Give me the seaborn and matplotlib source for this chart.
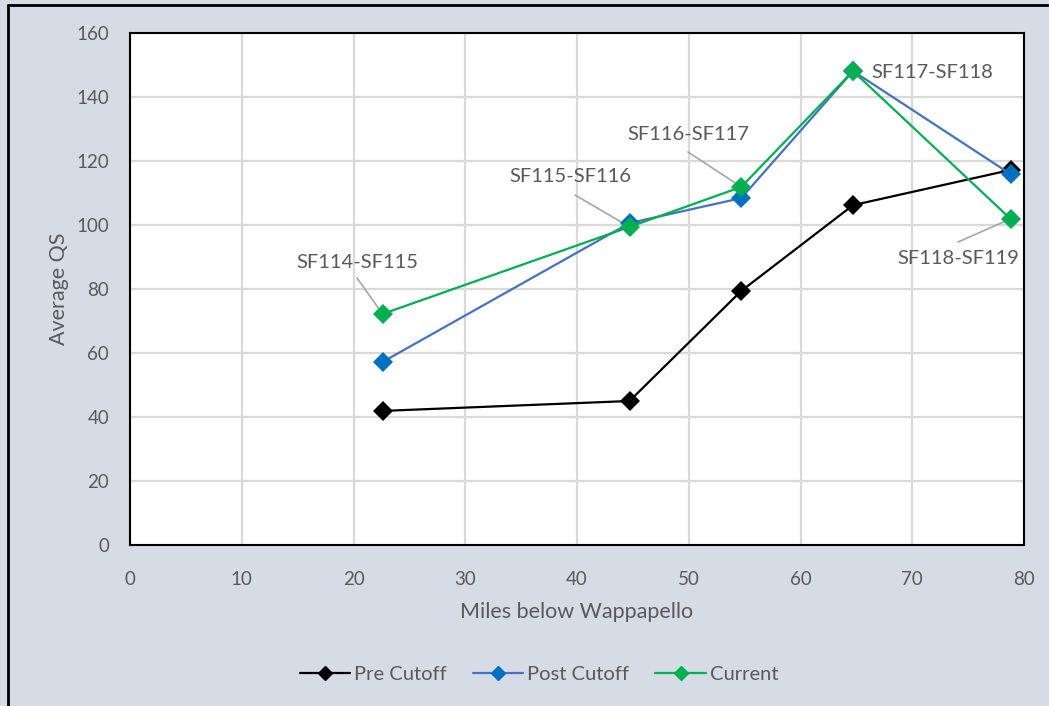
import matplotlib
matplotlib.use("Agg")
import matplotlib.pyplot as plt
from matplotlib.lines import Line2D
import seaborn as sns
import pandas as pd

# Station positions (miles below Wappapello) and average QS per period
miles = [22.6, 44.7, 54.7, 64.7, 78.8]
pre_cutoff = [41.9, 45.0, 79.4, 106.2, 117.2]
post_cutoff = [57.2, 100.6, 108.4, 148.1, 115.9]
current = [72.2, 99.4, 111.9, 148.1, 101.9]
reaches = ["SF114-SF115", "SF115-SF116", "SF116-SF117", "SF117-SF118", "SF118-SF119"]

series_names = ["Pre Cutoff", "Post Cutoff", "Current"]
line_colors = ["#000000", "#4472c4", "#00b050"]
marker_colors = ["#000000", "#0070c0", "#00b050"]

df = pd.concat([
    pd.DataFrame({"Miles": miles, "QS": vals, "Series": name})
    for name, vals in zip(series_names, [pre_cutoff, post_cutoff, current])
])

sns.set_theme(style="white")
plt.rcParams["font.family"] = ["Lato", "DejaVu Sans"]
text_color = "#595959"
bg = "#d6dce5"

fig = plt.figure(figsize=(10.49, 7.06), dpi=100, facecolor=bg)
ax = fig.add_axes([130 / 1049, 1 - 545 / 706, 894 / 1049, 512 / 706])
ax.set_facecolor("white")

for name, lc, mc in zip(series_names, line_colors, marker_colors):
    sns.lineplot(data=df[df["Series"] == name], x="Miles", y="QS", ax=ax,
                 color=lc, lw=1.6, marker="D", markersize=10,
                 markerfacecolor=mc, markeredgecolor=mc, markeredgewidth=0,
                 sort=False, zorder=3)

ax.set_xlim(0, 80)
ax.set_ylim(0, 160)
ax.set_xticks(range(0, 81, 10))
ax.set_yticks(range(0, 161, 20))
ax.grid(True, color="#d9d9d9", lw=1.6)
ax.set_axisbelow(True)
for s in ax.spines.values():
    s.set_color("black")
    s.set_linewidth(1.5)
ax.tick_params(axis="both", length=0, labelsize=13.5, labelcolor=text_color)
ax.tick_params(axis="x", pad=19)
ax.tick_params(axis="y", pad=15)
ax.set_xlabel("Miles below Wappapello", fontsize=15.5, color=text_color, labelpad=10)
ax.set_ylabel("Average QS", fontsize=15.5, color=text_color, labelpad=5)

# Reach labels with leader lines, tied to the Current series points
label_pos = [(357, 263), (570, 176), (688, 135), (932, 73), (958, 259)]
leader_start = [(357, 278), (575, 195), (688, 152), None, (958, 242)]

def to_data(px, py):
    return (px - 130) / 894 * 80, (545 - py) / 512 * 160

for i, reach in enumerate(reaches):
    tx, ty = to_data(*label_pos[i])
    ax.text(tx, ty, reach, fontsize=14.5, color=text_color, ha="center", va="center", zorder=5)
    if leader_start[i] is not None:
        sx, sy = to_data(*leader_start[i])
        ax.plot([sx, miles[i]], [sy, current[i]], color="#a6a6a6", lw=1.2, zorder=2)

handles = [Line2D([0], [0], color=lc, lw=1.6, marker="D", markersize=7,
                  markerfacecolor=mc, markeredgecolor=mc)
           for lc, mc in zip(line_colors, marker_colors)]
fig.legend(handles, series_names, loc="center", bbox_to_anchor=(539 / 1049, 1 - 674 / 706),
           ncol=3, frameon=False, fontsize=14.5, labelcolor=text_color,
           handlelength=2.5, handletextpad=0.2, columnspacing=1.3)

# Outer chart border (top and left edges)
fig.add_artist(Line2D([8 / 1049, 8 / 1049], [0, 1 - 5 / 706], color="black", lw=2,
                      transform=fig.transFigure))
fig.add_artist(Line2D([8 / 1049, 1], [1 - 5 / 706, 1 - 5 / 706], color="black", lw=2,
                      transform=fig.transFigure))

fig.savefig("out.png", dpi=100, facecolor=bg)
